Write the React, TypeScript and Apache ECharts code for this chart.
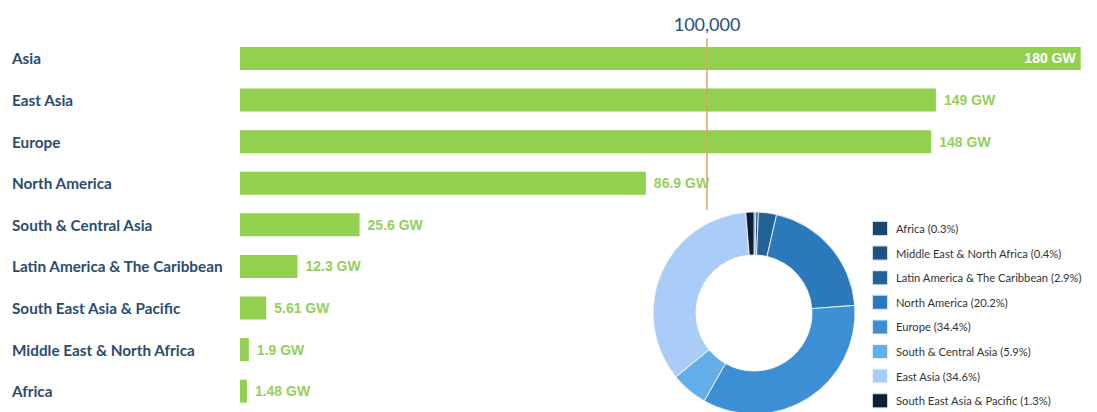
import React, { useEffect, useRef } from "react";
import * as echarts from "echarts";

const categories = [
  "Asia",
  "East Asia",
  "Europe",
  "North America",
  "South & Central Asia",
  "Latin America & The Caribbean",
  "South East Asia & Pacific",
  "Middle East & North Africa",
  "Africa",
];
const capacityGW = [180, 149, 148, 86.9, 25.6, 12.3, 5.61, 1.9, 1.48];

const shareNames = [
  "Africa",
  "Middle East & North Africa",
  "Latin America & The Caribbean",
  "North America",
  "Europe",
  "South & Central Asia",
  "East Asia",
  "South East Asia & Pacific",
];
const sharePct = [0.3, 0.4, 2.9, 20.2, 34.4, 5.9, 34.6, 1.3];
const shareColors = [
  "#1a4570",
  "#1d5186",
  "#236399",
  "#2b78bb",
  "#3d8fd4",
  "#64aee9",
  "#a9cdf6",
  "#0c1f38",
];

const refLineValue = 100;
const refLineLabel = "100,000";

export default function App() {
  const ref = useRef<HTMLDivElement>(null);
  useEffect(() => {
    document.body.style.margin = "0";
    const chart = echarts.init(ref.current!, null, { renderer: "svg" });
    const barColor = "#92d050";
    chart.setOption({
      animation: false,
      backgroundColor: "#ffffff",
      grid: { left: 240, right: 16.3, top: 37.7, height: 374.6, containLabel: false },
      xAxis: {
        type: "value",
        min: 0,
        max: 180,
        show: false,
      },
      yAxis: {
        type: "category",
        data: categories,
        inverse: true,
        axisLine: { show: false },
        axisTick: { show: false },
        splitLine: { show: false },
        axisLabel: {
          align: "left",
          margin: 228,
          color: "#2b4c6f",
          fontFamily: "Lato",
          fontWeight: "bold",
          fontSize: 15.3,
        },
      },
      legend: {
        orient: "vertical",
        left: 871,
        top: 220,
        padding: 0,
        itemWidth: 16,
        itemHeight: 15,
        itemGap: 7.6,
        icon: "rect",
        data: shareNames,
        selectedMode: false,
        textStyle: {
          color: "#333333",
          fontFamily: "Lato",
          fontSize: 11.2,
          lineHeight: 15,
          padding: [0, 0, 0, 3],
        },
        formatter: (name: string) => {
          const i = shareNames.indexOf(name);
          return `${name} (${sharePct[i]}%)`;
        },
      },
      series: [
        {
          type: "bar",
          barWidth: 23,
          data: capacityGW.map((v, i) =>
            i === 0
              ? {
                  value: v,
                  label: { position: "insideRight", color: "#ffffff", distance: 5 },
                }
              : v
          ),
          itemStyle: { color: barColor },
          label: {
            show: true,
            position: "right",
            distance: 8,
            color: "#94cf5c",
            fontFamily: "Arial, Liberation Sans",
            fontWeight: "bold",
            fontSize: 14,
            formatter: (p: any) => `${p.value} GW`,
          },
          markLine: {
            silent: true,
            symbol: "none",
            z: 10,
            lineStyle: { color: "#e3a35d", width: 1.5, type: "solid" },
            label: {
              show: true,
              position: "start",
              distance: 5,
              formatter: refLineLabel,
              color: "#1f4e79",
              fontFamily: "Lato",
              fontSize: 18,
            },
            data: [
              [
                { xAxis: refLineValue, yAxis: categories[0], y: 38 },
                { xAxis: refLineValue, yAxis: categories[0], y: 210 },
              ],
            ],
          },
        },
        {
          type: "pie",
          center: [754, 313],
          radius: [58, 101],
          startAngle: 90,
          clockwise: true,
          label: { show: false },
          labelLine: { show: false },
          itemStyle: { borderColor: "rgba(255,255,255,0.8)", borderWidth: 1 },
          data: shareNames.map((n, i) => ({
            name: n,
            value: sharePct[i],
            itemStyle: { color: shareColors[i] },
          })),
          z: 20,
        },
      ],
    });
    return () => chart.dispose();
  }, []);
  return <div ref={ref} style={{ width: 1097, height: 412 }} />;
}
